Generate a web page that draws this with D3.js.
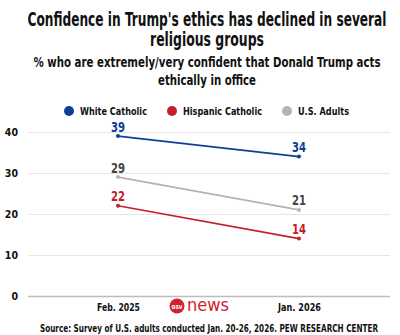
<!DOCTYPE html>
<html>
<head>
<meta charset="utf-8">
<script src="https://cdn.jsdelivr.net/npm/d3@7"></script>
<style>
  body { margin: 0; background: #fff; }
  svg text { font-family: "DejaVu Sans", sans-serif; font-stretch: condensed; font-weight: bold; }
</style>
</head>
<body>
<svg id="chart" width="400" height="335"></svg>
<script>
// chart data
var periods = ["Feb. 2025", "Jan. 2026"];
var seriesNames = ["White Catholic", "Hispanic Catholic", "U.S. Adults"];
var whiteCatholic = [39, 34];
var hispanicCatholic = [22, 14];
var usAdults = [29, 21];
var yTicks = [0, 10, 20, 30, 40];

var colors = ["#0d3f97", "#c4202b", "#b4b4b4"];
var labelColors = ["#0d3f97", "#c4202b", "#444444"];
var allSeries = [whiteCatholic, hispanicCatholic, usAdults];

var svg = d3.select("#chart");

var x = d3.scalePoint().domain(periods).range([118, 299]);
var y = d3.scaleLinear().domain([0, 40]).range([296, 132]);

// squeeze text to a given width
function fit(sel, w) {
	sel.attr("textLength", w).attr("lengthAdjust", "spacingAndGlyphs");
}

// titles
var titles = [
	{t: "Confidence in Trump's ethics has declined in several", y: 26, s: 20, w: 359},
	{t: "religious groups", y: 45.5, s: 20, w: 114},
	{t: "% who are extremely/very confident that Donald Trump acts", y: 67, s: 13.5, w: 347},
	{t: "ethically in office", y: 85, s: 13.5, w: 98}
];
titles.forEach(function (d) {
	svg.append("text")
		.attr("x", 207)
		.attr("y", d.y)
		.style("text-anchor", "middle")
		.style("font-size", d.s + "px")
		.style("fill", "#111")
		.text(d.t)
		.call(fit, d.w);
});

// legend
var legendX = [69, 172, 287];
var legendW = [67, 79, 51];
var legend = svg.selectAll("g.legend").data(seriesNames).enter().append("g")
	.attr("class", "legend")
	.attr("transform", function (d, i) { return "translate(" + legendX[i] + ",111)"; });
legend.append("circle")
	.attr("r", 5)
	.style("fill", function (d, i) { return colors[i]; });
legend.append("text")
	.attr("x", 11)
	.attr("y", 4)
	.style("font-size", "10.5px")
	.style("fill", "#111")
	.text(function (d) { return d; })
	.each(function (d, i) { d3.select(this).call(fit, legendW[i]); });

// grid and y axis
svg.append("g")
	.attr("transform", "translate(28,0)")
	.call(d3.axisLeft(y).tickValues(yTicks).tickSize(0))
	.call(function (g) {
		g.select(".domain").remove();
		g.selectAll(".tick line")
			.attr("x1", 0).attr("x2", 362)
			.style("stroke", function (d) { return d === 0 ? "#bcbcbc" : "#e6e6e6"; })
			.style("stroke-width", function (d) { return d === 0 ? 1.6 : 1; });
		g.selectAll(".tick text")
			.attr("x", -10)
			.attr("dy", "0.35em")
			.style("font-family", "'DejaVu Sans', sans-serif")
			.style("font-size", "10.5px")
			.style("fill", "#111");
	});

// x axis labels
svg.append("g")
	.attr("transform", "translate(0,296)")
	.call(d3.axisBottom(x).tickSize(0).tickPadding(0))
	.call(function (g) {
		g.select(".domain").remove();
		g.selectAll(".tick text")
			.attr("y", 15)
			.attr("dy", 0)
			.style("font-family", "'DejaVu Sans', sans-serif")
			.style("font-size", "11px")
			.style("fill", "#111")
			.call(fit, 43);
	});

// lines
var line = d3.line()
	.x(function (d, i) { return x(periods[i]); })
	.y(function (d) { return y(d); });

allSeries.forEach(function (vals, s) {
	var g = svg.append("g");
	g.append("path")
		.datum(vals)
		.attr("d", line)
		.style("fill", "none")
		.style("stroke", colors[s])
		.style("stroke-width", 1.6);
	g.selectAll("circle").data(vals).enter().append("circle")
		.attr("cx", function (d, i) { return x(periods[i]); })
		.attr("cy", function (d) { return y(d); })
		.attr("r", 2)
		.style("fill", colors[s]);
	g.selectAll("text").data(vals).enter().append("text")
		.attr("x", function (d, i) { return x(periods[i]); })
		.attr("y", function (d) { return y(d) - 4.5; })
		.style("text-anchor", "middle")
		.style("font-size", "14px")
		.style("fill", labelColors[s])
		.text(function (d) { return d; })
		.call(fit, 14);
});

// logo
var logo = svg.append("g").attr("transform", "translate(177,306)");
logo.append("circle").attr("r", 7.5).style("fill", "#d1202f");
logo.append("text")
	.attr("y", 2.5)
	.style("text-anchor", "middle")
	.style("font-size", "7px")
	.style("fill", "#fff")
	.text("osv")
	.call(fit, 11);
logo.append("text")
	.attr("x", 10).attr("y", 5)
	.style("font-family", "'DejaVu Sans', sans-serif")
	.style("font-weight", "normal")
	.style("font-stretch", "normal")
	.style("font-size", "17px")
	.style("fill", "#d1202f")
	.text("news")
	.call(fit, 42);

// source
svg.append("text")
	.attr("x", 209)
	.attr("y", 332)
	.style("text-anchor", "middle")
	.style("font-size", "11px")
	.style("fill", "#111")
	.text("Source: Survey of U.S. adults conducted Jan. 20-26, 2026. PEW RESEARCH CENTER")
	.call(fit, 338);
</script>
</body>
</html>
